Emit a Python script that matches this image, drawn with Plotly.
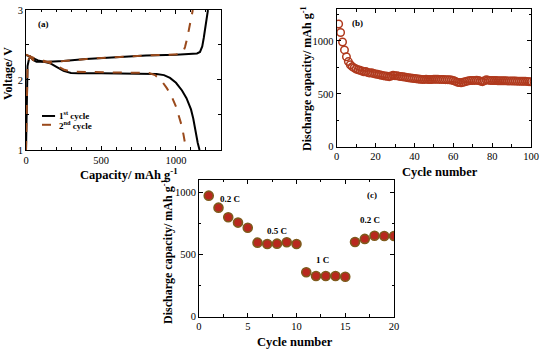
import plotly.graph_objects as go

# ---------------- Panel (a): voltage profiles ----------------
dis1_cap = [0, 15, 30, 50, 80, 120, 160, 200, 250, 300, 350, 500, 700, 800, 870, 920, 960, 1000, 1040, 1070, 1100, 1115, 1125, 1135, 1145, 1157]
dis1_v = [2.36, 2.34, 2.33, 2.31, 2.28, 2.26, 2.24, 2.19, 2.13, 2.10, 2.095, 2.095, 2.095, 2.093, 2.085, 2.07, 2.03, 1.96, 1.85, 1.74, 1.58, 1.45, 1.32, 1.20, 1.10, 1.0]
chg1_cap = [0, 3, 6, 10, 20, 30, 45, 70, 150, 250, 400, 600, 800, 1000, 1100, 1140, 1160, 1175, 1185, 1195, 1205, 1213]
chg1_v = [1.0, 1.5, 2.0, 2.2, 2.3, 2.33, 2.29, 2.26, 2.26, 2.27, 2.30, 2.33, 2.35, 2.36, 2.37, 2.38, 2.40, 2.48, 2.6, 2.75, 2.9, 3.0]
dis2_cap = [0, 30, 60, 100, 150, 200, 250, 300, 400, 600, 750, 820, 860, 900, 940, 970, 1000, 1020, 1035, 1050, 1060, 1068]
dis2_v = [2.36, 2.33, 2.31, 2.29, 2.25, 2.21, 2.15, 2.12, 2.115, 2.11, 2.11, 2.10, 2.07, 2.00, 1.88, 1.77, 1.62, 1.48, 1.37, 1.22, 1.10, 1.0]
chg2_cap = [0, 3, 6, 10, 20, 30, 45, 70, 150, 250, 400, 600, 800, 950, 1020, 1045, 1060, 1075, 1090, 1102, 1112]
chg2_v = [1.0, 1.5, 2.0, 2.2, 2.3, 2.33, 2.29, 2.26, 2.26, 2.27, 2.30, 2.33, 2.35, 2.36, 2.37, 2.39, 2.47, 2.6, 2.76, 2.9, 3.0]

# ---------------- Panel (b): cycling ----------------
cycles_b = list(range(1, 101))
cap_b = [1160, 1080, 990, 915, 850, 805, 775, 757, 745, 735,
         728, 722, 716, 708, 712, 702, 697, 700, 692, 687,
         684, 680, 676, 672, 668, 665, 662, 668, 675, 672,
         670, 667, 664, 661, 658, 655, 652, 650, 647, 645,
         642, 640, 638, 636, 636, 637, 636, 635, 636, 637,
         638, 637, 636, 636, 635, 634, 634, 633, 630, 626,
         618, 610, 606, 605, 609, 614, 620, 624, 626, 627,
         627, 628, 626, 620, 615, 624, 632, 629, 627, 626,
         625, 625, 624, 624, 623, 623, 623, 622, 622, 622,
         621, 621, 620, 620, 619, 619, 618, 617, 615, 613]

# ---------------- Panel (c): rate capability ----------------
cycles_c = list(range(1, 21))
cap_c = [971, 875, 798, 755, 714, 594, 583, 586, 597, 583,
         356, 327, 326, 326, 321, 599, 624, 650, 648, 648]
rate_labels = ["0.2 C", "0.5 C", "1 C", "0.2 C"]
rate_label_x = [3.2, 8.0, 12.7, 17.5]
rate_label_y = [944, 687, 455, 776]

FONT = "Liberation Serif, Times New Roman, Times, serif"
BLACK = "#000000"
BROWN = "#9a4a1c"

fig = go.Figure()

# panel a traces
fig.add_trace(go.Scatter(x=dis1_cap, y=dis1_v, mode="lines", line=dict(color=BLACK, width=2),
                         xaxis="x", yaxis="y", showlegend=False))
fig.add_trace(go.Scatter(x=chg1_cap, y=chg1_v, mode="lines", line=dict(color=BLACK, width=2),
                         xaxis="x", yaxis="y", showlegend=False))
fig.add_trace(go.Scatter(x=dis2_cap, y=dis2_v, mode="lines", line=dict(color=BROWN, width=2, dash="dash"),
                         xaxis="x", yaxis="y", showlegend=False))
fig.add_trace(go.Scatter(x=chg2_cap, y=chg2_v, mode="lines", line=dict(color=BROWN, width=2, dash="dash"),
                         xaxis="x", yaxis="y", showlegend=False))

# panel b
fig.add_trace(go.Scatter(x=cycles_b, y=cap_b, mode="markers",
                         marker=dict(symbol="circle-open", size=7.5, color="#b03a1e", line=dict(width=1.5, color="#b03a1e")),
                         xaxis="x2", yaxis="y2", showlegend=False))

# panel c
fig.add_trace(go.Scatter(x=cycles_c, y=cap_c, mode="markers",
                         marker=dict(symbol="circle", size=9, color="#b8281e", line=dict(width=1.6, color="#7e5a1c")),
                         xaxis="x3", yaxis="y3", showlegend=False))

tickfont = dict(family=FONT, size=10.5, color="black")
xtitlefont = dict(family=FONT, size=12.5, color="black", weight="bold")
ytitlefont = dict(family=FONT, size=12, color="black", weight="bold")

def axis_common(**kw):
    d = dict(showline=True, linecolor="black", linewidth=1, mirror="allticks",
             ticks="inside", ticklen=4, tickwidth=1, tickcolor="black",
             showgrid=False, zeroline=False, tickfont=tickfont, automargin=False)
    d.update(kw)
    return d

minor = lambda dt: dict(dtick=dt, ticks="inside", ticklen=2.5, tickcolor="black", showgrid=False)

fig.update_layout(
    width=550, height=352,
    margin=dict(l=0, r=0, t=0, b=0),
    paper_bgcolor="white", plot_bgcolor="white",
    font=dict(family=FONT, color="black"),
    showlegend=False,
    xaxis=axis_common(domain=[0.0473, 0.4018], range=[0, 1300], dtick=500, minor=minor(100), anchor="y"),
    yaxis=axis_common(domain=[0.5739, 0.9716], range=[1, 3], dtick=1, minor=minor(0.5), anchor="x"),
    xaxis2=axis_common(domain=[0.6122, 0.9655], range=[0, 100], dtick=20, minor=minor(10), anchor="y2"),
    yaxis2=axis_common(domain=[0.5832, 0.9739], range=[0, 1300], dtick=500, minor=minor(250), anchor="x2"),
    xaxis3=axis_common(domain=[0.3618, 0.7164], range=[0, 20], dtick=5, minor=minor(2.5), anchor="y3"),
    yaxis3=axis_common(domain=[0.1003, 0.4898], range=[0, 1100], dtick=500, minor=minor(250), anchor="x3"),
)

ann_font = dict(family=FONT, size=9, color="black", weight="bold")
small_font = dict(family=FONT, size=9, color="black", weight="bold")

def ptitle(text, px, py, angle=0):
    # axis title placed in paper coordinates (pixel position converted)
    return dict(text=text, x=px / 550, y=1 - py / 352, xref="paper", yref="paper",
                xanchor="center", yanchor="middle", showarrow=False, textangle=angle,
                font=ytitlefont if angle else xtitlefont)

annotations = [
    ptitle("Capacity/ mAh g<sup>-1</sup>", 129, 174),
    ptitle("Voltage/ V", 8, 74, -90),
    ptitle("Cycle number", 440, 172),
    ptitle("Discharge capacity/ mAh g<sup>-1</sup>", 307, 79, -90),
    ptitle("Cycle number", 295, 342),
    ptitle("Discharge capacity/ mAh g<sup>-1</sup>", 167, 252, -90),
    dict(text="(a)", x=0.05, y=0.90, xref="x domain", yref="y domain", xanchor="left", yanchor="middle", showarrow=False, font=ann_font),
    dict(text="(b)", x=0.07, y=0.90, xref="x2 domain", yref="y2 domain", xanchor="left", yanchor="middle", showarrow=False, font=ann_font),
    dict(text="(c)", x=17.7, y=977, xref="x3", yref="y3", xanchor="center", yanchor="middle", showarrow=False, font=ann_font),
    dict(text="1<sup>st</sup> cycle", x=0.16, y=0.25, xref="x domain", yref="y domain", xanchor="left", yanchor="middle", showarrow=False, font=small_font),
    dict(text="2<sup>nd</sup> cycle", x=0.16, y=0.18, xref="x domain", yref="y domain", xanchor="left", yanchor="middle", showarrow=False, font=small_font),
]
for t, xx, yy in zip(rate_labels, rate_label_x, rate_label_y):
    annotations.append(dict(text=t, x=xx, y=yy, xref="x3", yref="y3", xanchor="center", yanchor="middle",
                            showarrow=False, font=small_font))
fig.update_layout(annotations=annotations)

# legend samples for panel (a)
fig.add_shape(type="line", x0=0.082, x1=0.149, y0=0.243, y1=0.243, xref="x domain", yref="y domain",
              line=dict(color=BLACK, width=2))
fig.add_shape(type="line", x0=0.082, x1=0.149, y0=0.18, y1=0.18, xref="x domain", yref="y domain",
              line=dict(color=BROWN, width=2, dash="dash"))

fig.write_html("out.html", config={"displayModeBar": False},
               post_script="document.body.style.margin='0';document.body.style.overflow='hidden';")
